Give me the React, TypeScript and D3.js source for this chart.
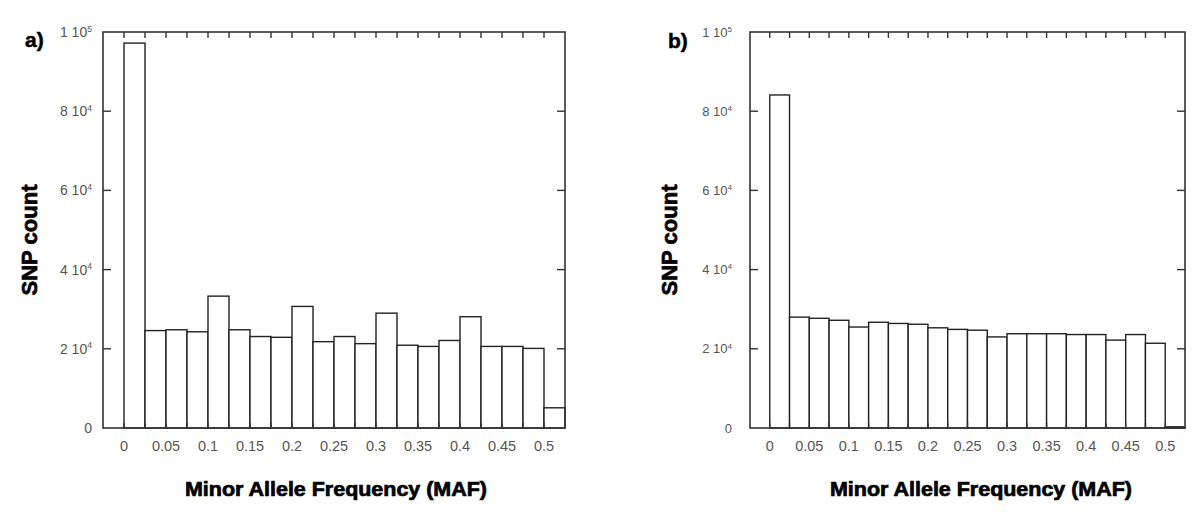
import React from "react";
import * as d3 from "d3";

// ---- data ----
const binStarts = [0, 0.025, 0.05, 0.075, 0.1, 0.125, 0.15, 0.175, 0.2, 0.225, 0.25, 0.275, 0.3, 0.325, 0.35, 0.375, 0.4, 0.425, 0.45, 0.475, 0.5];
const binWidth = 0.025;
const countsA = [97200, 24600, 24800, 24300, 33300, 24800, 23100, 22900, 30700, 21800, 23100, 21300, 29000, 20900, 20600, 22100, 28100, 20600, 20600, 20100, 5100];
const countsB = [84100, 28000, 27700, 27200, 25500, 26700, 26400, 26200, 25300, 24900, 24700, 23000, 23800, 23800, 23800, 23600, 23600, 22200, 23600, 21400, 300];
const xTicks = [0, 0.05, 0.1, 0.15, 0.2, 0.25, 0.3, 0.35, 0.4, 0.45, 0.5];
const xTickLabels = ["0", "0.05", "0.1", "0.15", "0.2", "0.25", "0.3", "0.35", "0.4", "0.45", "0.5"];
const yTicks = [0, 20000, 40000, 60000, 80000, 100000];
const yTickMantissa = ["0", "2", "4", "6", "8", "1"];
const yTickExponent = ["", "4", "4", "4", "4", "5"];
const panelLetters = ["a)", "b)"];
const yTitle = "SNP count";
const xTitle = "Minor Allele Frequency (MAF)";

const W = 1200;
const H = 523;

type PanelProps = {
  counts: number[];
  left: number;
  right: number;
  letter: string;
  letterX: number;
  letterY: number;
  yTitleX: number;
  xTitleX: number;
  labelGap: number;
  yLabelSize: number;
};

const top = 32;
const bottom = 428;

function Panel(p: PanelProps) {
  const x = d3.scaleLinear().domain([-0.025, 0.525]).range([p.left, p.right]);
  const y = d3.scaleLinear().domain([0, 100000]).range([bottom, top]);
  const edgeTicks = binStarts;
  const axisColor = "#333";
  return (
    <g>
      {/* bars */}
      {p.counts.map((c, i) => (
        <rect
          key={"b" + i}
          x={x(binStarts[i])}
          y={y(c)}
          width={x(binStarts[i] + binWidth) - x(binStarts[i])}
          height={y(0) - y(c)}
          fill="#fff"
          stroke="#222"
          strokeWidth={1.4}
        />
      ))}
      {/* frame */}
      <rect x={p.left} y={top} width={p.right - p.left} height={bottom - top} fill="none" stroke={axisColor} strokeWidth={1.6} />
      {/* top & bottom ticks */}
      {edgeTicks.map((t, i) => (
        <g key={"et" + i}>
          <line x1={x(t)} x2={x(t)} y1={top} y2={top + 6} stroke={axisColor} strokeWidth={1.4} />
          <line x1={x(t)} x2={x(t)} y1={bottom} y2={bottom - 5} stroke={axisColor} strokeWidth={1.4} />
        </g>
      ))}
      {/* y ticks */}
      {yTicks.map((t, i) => (
        <g key={"yt" + i}>
          {i > 0 && i < yTicks.length - 1 && (
            <>
              <line x1={p.left} x2={p.left + 8} y1={y(t)} y2={y(t)} stroke={axisColor} strokeWidth={1.4} />
              <line x1={p.right} x2={p.right - 8} y1={y(t)} y2={y(t)} stroke={axisColor} strokeWidth={1.4} />
            </>
          )}
          <text
            x={p.left - p.labelGap}
            y={y(t)}
            dy="0.35em"
            textAnchor="end"
            fontFamily="'Liberation Sans', Arial, sans-serif"
            fontSize={p.yLabelSize}
            fill="#555"
          >
            {yTickExponent[i] ? (
              <>
                {yTickMantissa[i] + " 10"}
                <tspan dy="-0.6em" fontSize={p.yLabelSize * 0.62}>{yTickExponent[i]}</tspan>
              </>
            ) : (
              yTickMantissa[i]
            )}
          </text>
        </g>
      ))}
      {/* x tick labels */}
      {xTicks.map((t, i) => (
        <text
          key={"xt" + i}
          x={x(t)}
          y={446}
          dy="0.35em"
          textAnchor="middle"
          fontFamily="'Liberation Sans', Arial, sans-serif"
          fontSize={14.5}
          fill="#555"
        >
          {xTickLabels[i]}
        </text>
      ))}
      {/* titles */}
      <text
        x={p.xTitleX}
        y={496}
        textAnchor="middle"
        fontFamily="'Liberation Sans', Arial, sans-serif"
        fontWeight="bold"
        fontSize={20}
        textLength={302}
        lengthAdjust="spacingAndGlyphs"
        fill="#000"
        stroke="#000"
        strokeWidth={0.7}
      >
        {xTitle}
      </text>
      <text
        transform={`translate(${p.yTitleX},240) rotate(-90)`}
        textAnchor="middle"
        dy="0.35em"
        fontFamily="'Liberation Sans', Arial, sans-serif"
        fontWeight="bold"
        fontSize={22}
        textLength={111}
        lengthAdjust="spacingAndGlyphs"
        fill="#000"
        stroke="#000"
        strokeWidth={0.7}
      >
        {yTitle}
      </text>
      <text
        x={p.letterX}
        y={p.letterY}
        fontFamily="'Liberation Sans', Arial, sans-serif"
        fontWeight="bold"
        fontSize={21}
        fill="#000"
        stroke="#000"
        strokeWidth={0.5}
      >
        {p.letter}
      </text>
    </g>
  );
}

export default function App() {
  return (
    <svg width={W} height={H} style={{ display: "block", position: "absolute", left: 0, top: 0, background: "#fff" }}>
      <rect x={0} y={0} width={W} height={H} fill="#fff" />
      <Panel counts={countsA} left={103} right={565} letter={panelLetters[0]} letterX={25} letterY={47} yTitleX={29} xTitleX={336} labelGap={11} yLabelSize={14} />
      <Panel counts={countsB} left={750} right={1185} letter={panelLetters[1]} letterX={668} letterY={48} yTitleX={669} xTitleX={981} labelGap={18} yLabelSize={13} />
    </svg>
  );
}
